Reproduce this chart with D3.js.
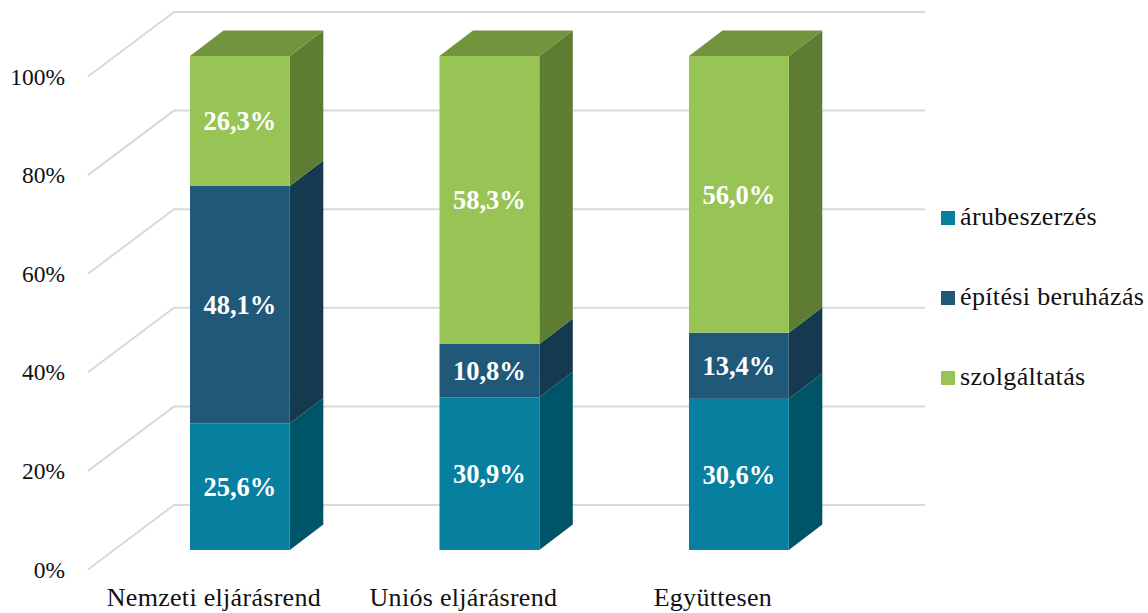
<!DOCTYPE html>
<html>
<head>
<meta charset="utf-8">
<script src="https://d3js.org/d3.v7.min.js"></script>
<style>
  html, body { margin: 0; padding: 0; background: #fff; }
  text { font-family: "Liberation Serif", serif; fill: #111; }
</style>
</head>
<body>
<script>
// chart values
const categories = ["Nemzeti eljárásrend", "Uniós eljárásrend", "Együttesen"];
const seriesNames = ["árubeszerzés", "építési beruházás", "szolgáltatás"];
const arubeszerzes = [25.6, 30.9, 30.6];
const epitesi = [48.1, 10.8, 13.4];
const szolgaltatas = [26.3, 58.3, 56.0];
const yTicks = [0, 20, 40, 60, 80, 100];

const seriesValues = [arubeszerzes, epitesi, szolgaltatas];
const front = ["#07809f", "#1f5878", "#98c455"];
const side = ["#005468", "#153a4f", "#5f7c33"];
const topFace = "#72943c";

const width = 1148, height = 613;

// depth of the bars and of the floor/wall grid
const barDx = 33.5, barDy = -25.5;
const wallDx = 86, wallDy = -64.5;

const svg = d3.select("body").append("svg")
    .attr("width", width)
    .attr("height", height)
    .style("display", "block");

const x = d3.scaleBand()
    .domain(categories)
    .range([115.15, 863.65])
    .paddingInner(0.6)
    .paddingOuter(0.3);

const y = d3.scaleLinear().domain([0, 100]).range([550, 56]);
const yAxisScale = d3.scaleLinear().domain([0, 100]).range([569.5, 76.5]);

// gridlines: slanted part on the left, then along the back wall
svg.append("g").selectAll("path")
    .data(yTicks)
    .enter().append("path")
    .attr("fill", "none")
    .attr("stroke", "#d9d9d9")
    .attr("stroke-width", 2)
    .attr("d", d => "M88," + yAxisScale(d)
        + "L" + (88 + wallDx) + "," + (yAxisScale(d) + wallDy)
        + "H925");

// y axis labels
const yAxis = svg.append("g")
    .attr("transform", "translate(65,0)")
    .call(d3.axisLeft(yAxisScale).tickValues(yTicks).tickSize(0).tickPadding(0)
        .tickFormat(d => d + "%"));
yAxis.select(".domain").remove();
yAxis.selectAll("text")
    .style("font-family", "'Liberation Serif', serif")
    .style("font-size", "23.5px")
    .style("fill", "#111");

// x axis labels, shifted left of the bars like the original
const xAxis = svg.append("g")
    .attr("transform", "translate(-26,588)")
    .call(d3.axisBottom(x).tickSize(0).tickPadding(0));
xAxis.select(".domain").remove();
xAxis.selectAll("text")
    .style("font-family", "'Liberation Serif', serif")
    .style("font-size", "26px")
    .style("letter-spacing", "0.3px")
    .style("fill", "#111");

// stacked 3d bars
categories.forEach((cat, i) => {
    const g = svg.append("g");
    const bx = x(cat), bw = x.bandwidth();
    let cum = 0;
    seriesValues.forEach((vals, s) => {
        const y0 = y(cum), y1 = y(cum + vals[i]);
        cum += vals[i];
        // side face
        g.append("polygon")
            .attr("fill", side[s])
            .attr("points", [
                [bx + bw, y0], [bx + bw + barDx, y0 + barDy],
                [bx + bw + barDx, y1 + barDy], [bx + bw, y1]
            ].join(" "));
        // front face
        g.append("rect")
            .attr("x", bx).attr("y", y1)
            .attr("width", bw).attr("height", y0 - y1)
            .attr("fill", front[s]);
        // value label
        g.append("text")
            .attr("x", bx + bw / 2)
            .attr("y", (y0 + y1) / 2)
            .attr("dy", "0.35em")
            .attr("text-anchor", "middle")
            .style("fill", "#fff")
            .style("font-weight", "bold")
            .style("font-size", "26.5px")
            .text(d3.format(".1f")(vals[i]).replace(".", ",") + "%");
    });
    // top face
    const yt = y(cum);
    g.append("polygon")
        .attr("fill", topFace)
        .attr("points", [
            [bx, yt], [bx + barDx, yt + barDy],
            [bx + bw + barDx, yt + barDy], [bx + bw, yt]
        ].join(" "));
});

// legend
const legendY = d3.scalePoint().domain(seriesNames).range([218, 378]);
const legend = svg.append("g").selectAll("g")
    .data(seriesNames)
    .enter().append("g")
    .attr("transform", d => "translate(941," + legendY(d) + ")");
legend.append("rect")
    .attr("y", -7).attr("width", 14).attr("height", 14)
    .attr("fill", (d, i) => front[i]);
legend.append("text")
    .attr("x", 19)
    .attr("dy", "0.27em")
    .style("font-size", "26px")
    .style("letter-spacing", "0.35px")
    .text(d => d);
</script>
</body>
</html>
